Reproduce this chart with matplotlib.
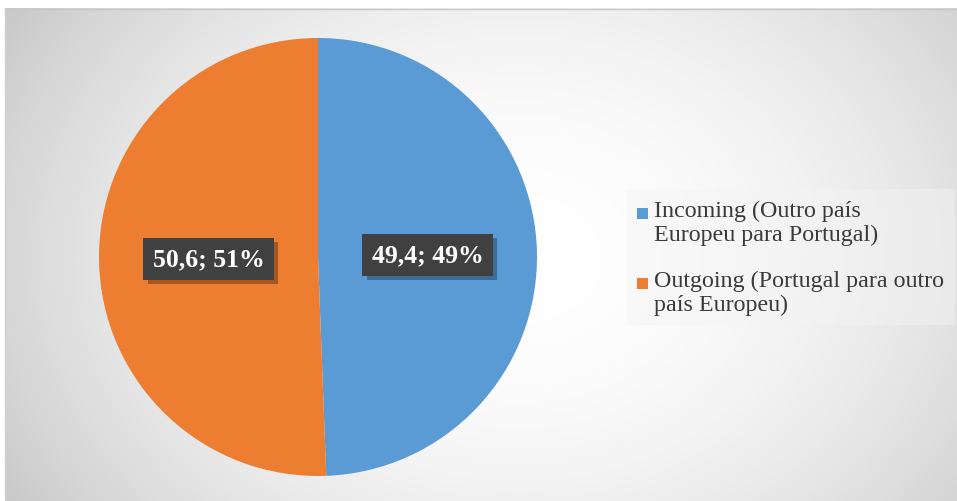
import numpy as np
import matplotlib
matplotlib.use("Agg")
import matplotlib.pyplot as plt
from matplotlib.patches import Rectangle
import matplotlib.patheffects as pe

categories = ["Incoming (Outro país\nEuropeu para Portugal)",
              "Outgoing (Portugal para outro\npaís Europeu)"]
values = [49.4, 50.6]
pct_labels = ["49%", "51%"]
colors = ["#5B9BD5", "#ED7D31"]

W, H = 957, 502
fig = plt.figure(figsize=(W / 100, H / 100), dpi=100)
fig.patch.set_facecolor("white")

# background radial gradient (chart area)
bg = fig.add_axes([0, 0, 1, 1], zorder=-5)
bg.set_xlim(0, W)
bg.set_ylim(H, 0)
bg.axis("off")
x0, y0 = 5, 9.5
xs = np.arange(x0, W + 1)
ys = np.arange(y0, H + 1)
X, Y = np.meshgrid(xs, ys)
cx, cy = 520, 260
d2 = ((X - cx) / 515.0) ** 2 + ((Y - cy) / 408.0) ** 2
v = np.clip(255 - 40 * d2, 190, 255) / 255.0
img = np.dstack([v, v, v])
bg.imshow(img, extent=(x0, W, H, y0), aspect="auto", interpolation="bilinear")
bg.plot([x0, W], [y0, y0], color="#c8c8c8", lw=1)
bg.plot([x0, x0], [y0, H], color="#d0d0d0", lw=1)

# pie
cxp, cyp, r = 318, 258, 219
ax = fig.add_axes([(cxp - r) / W, (H - cyp - r) / H, 2 * r / W, 2 * r / H])
wedges, _ = ax.pie(values, colors=colors, startangle=90, counterclock=False,
                   radius=1.0, wedgeprops=dict(linewidth=0))
ax.set_xlim(-1, 1)
ax.set_ylim(-1, 1)
ax.set_aspect("equal")
ax.axis("off")

for w, val, pl in zip(wedges, values, pct_labels):
    ang = np.deg2rad((w.theta1 + w.theta2) / 2)
    tx, ty = 0.5 * np.cos(ang), 0.5 * np.sin(ang)
    t = ax.text(tx, ty, f"{val:.1f}".replace(".", ",") + "; " + pl,
                ha="center", va="center", color="white", fontsize=18.5,
                fontweight="bold", family="Liberation Serif",
                bbox=dict(boxstyle="square,pad=0.36", facecolor="#404040",
                          edgecolor="none"))
    t.get_bbox_patch().set_path_effects(
        [pe.SimplePatchShadow(offset=(3, -3), shadow_rgbFace="#000000", alpha=0.3),
         pe.Normal()])

# legend (manual)
lg = fig.add_axes([0, 0, 1, 1], zorder=5)
lg.set_xlim(0, W)
lg.set_ylim(H, 0)
lg.axis("off")
lg.add_patch(Rectangle((627, 190), 328, 136, facecolor="#f4f4f4", alpha=0.45,
                       edgecolor="none"))
ytop = [201, 271]
for cat, col, yt in zip(categories, colors, ytop):
    lg.add_patch(Rectangle((637, yt + 8), 10.5, 10.5, facecolor=col, edgecolor="none"))
    lg.text(654, yt, cat, ha="left", va="top", fontsize=17.3,
            family="Liberation Serif", color="#3a3a3a", linespacing=1.18)

fig.savefig("out.png", dpi=100)
